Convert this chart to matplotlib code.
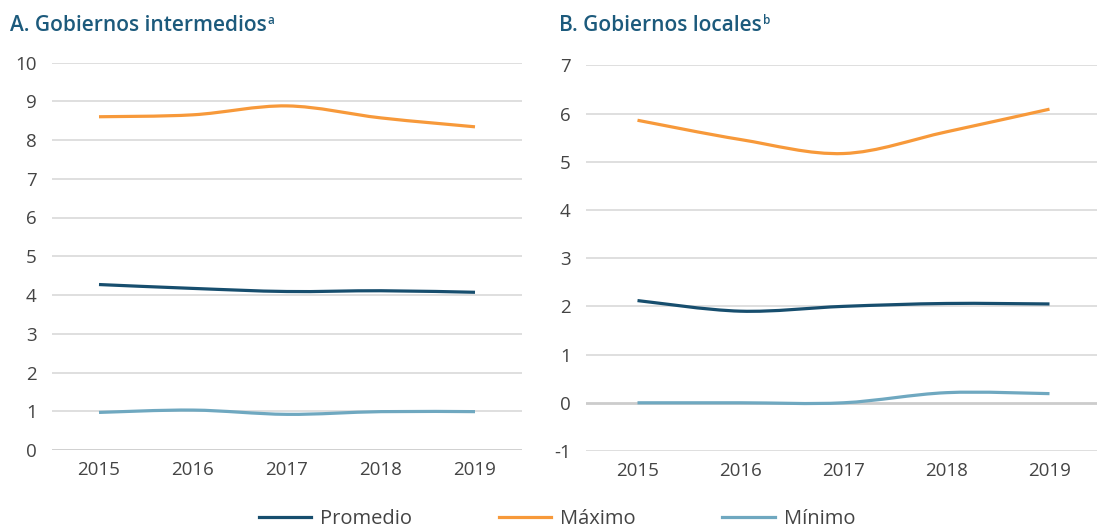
import matplotlib
matplotlib.use("Agg")
import matplotlib.pyplot as plt
from matplotlib.path import Path
from matplotlib.patches import PathPatch
from matplotlib.lines import Line2D
import numpy as np

years = [2015, 2016, 2017, 2018, 2019]

# Panel A: Gobiernos intermedios
a_promedio = [4.27, 4.17, 4.09, 4.11, 4.07]
a_maximo = [8.60, 8.65, 8.88, 8.57, 8.34]
a_minimo = [0.97, 1.03, 0.92, 0.99, 0.99]

# Panel B: Gobiernos locales
b_promedio = [2.12, 1.90, 2.00, 2.06, 2.05]
b_maximo = [5.86, 5.46, 5.17, 5.62, 6.09]
b_minimo = [0.00, 0.00, 0.00, 0.21, 0.19]

series_names = ["Promedio", "Máximo", "Mínimo"]
colors = ["#174e6e", "#f7993a", "#6fa8c0"]

title_a = "A. Gobiernos intermedios"
title_b = "B. Gobiernos locales"
sup_a = "a"
sup_b = "b"

plt.rcParams['font.family'] = ['Open Sans', 'DejaVu Sans']
plt.rcParams['axes.unicode_minus'] = False

TICK_COLOR = "#444444"
TITLE_COLOR = "#1c5a7c"
GRID_COLOR = "#dcdcdc"


def smooth_path(xs, ys):
    """Excel-style smoothed line: cubic Bezier through the data points."""
    pts = np.column_stack([xs, ys]).astype(float)
    n = len(pts)
    verts = [pts[0]]
    codes = [Path.MOVETO]
    for i in range(n - 1):
        p0 = pts[i - 1] if i > 0 else pts[i]
        p1 = pts[i]
        p2 = pts[i + 1]
        p3 = pts[i + 2] if i + 2 < n else pts[i + 1]
        c1 = p1 + (p2 - p0) / 6.0
        c2 = p2 - (p3 - p1) / 6.0
        verts += [c1, c2, p2]
        codes += [Path.CURVE4] * 3
    return Path(verts, codes)


fig = plt.figure(figsize=(10.97, 5.29), dpi=100)
W, H = 1097, 529

def make_axes(x0, x1, ytop, ybot):
    return fig.add_axes([x0 / W, 1 - ybot / H, (x1 - x0) / W, (ybot - ytop) / H])

axA = make_axes(52, 522, 62.5, 450)
axB = make_axes(586, 1101, 65.3, 451)

def style(ax, ylim, yticks, data):
    ax.set_xlim(2014.5, 2019.5)
    ax.set_ylim(*ylim)
    ax.set_yticks(yticks)
    ax.set_xticks(years)
    ax.set_xticklabels([str(y) for y in years])
    for s in ax.spines.values():
        s.set_visible(False)
    ax.tick_params(axis='both', length=0, labelsize=13.5, colors=TICK_COLOR)
    ax.tick_params(axis='y', pad=11)
    ax.tick_params(axis='x', pad=8)
    for t in yticks:
        if t == 0:
            ax.axhline(t, color="#cccccc", lw=2.0, zorder=1)
        else:
            ax.axhline(t, color=GRID_COLOR, lw=1.3, zorder=1)
    for vals, c in zip(data, colors):
        patch = PathPatch(smooth_path(years, vals), facecolor='none', edgecolor=c,
                          lw=2.3, capstyle='butt', zorder=3)
        ax.add_patch(patch)

style(axA, (0, 10), list(range(0, 11)), [a_promedio, a_maximo, a_minimo])
style(axB, (-1, 7), list(range(-1, 8)), [b_promedio, b_maximo, b_minimo])

# Titles with superscripts
fig.canvas.draw()
renderer = fig.canvas.get_renderer()
for (tx, ttl, sup) in [(10, title_a, sup_a), (559, title_b, sup_b)]:
    t = fig.text(tx / W, 1 - 31 / H, ttl, fontsize=15, color=TITLE_COLOR,
                 ha='left', va='baseline', fontweight='semibold')
    bb = t.get_window_extent(renderer=renderer)
    fig.text((bb.x1 + 1) / W, 1 - 24.5 / H, sup, fontsize=8.5, color=TITLE_COLOR,
             ha='left', va='baseline', fontweight='semibold')

handles = [Line2D([], [], color=c, lw=2.3) for c in colors]
fig.legend(handles, series_names, loc='center', bbox_to_anchor=(557 / W, 1 - 519 / H),
           ncol=3, frameon=False, fontsize=14.5, handlelength=2.6, handletextpad=0.45,
           columnspacing=4.3, labelcolor=TICK_COLOR, borderaxespad=0, borderpad=0)

fig.savefig("out.png", dpi=100)
